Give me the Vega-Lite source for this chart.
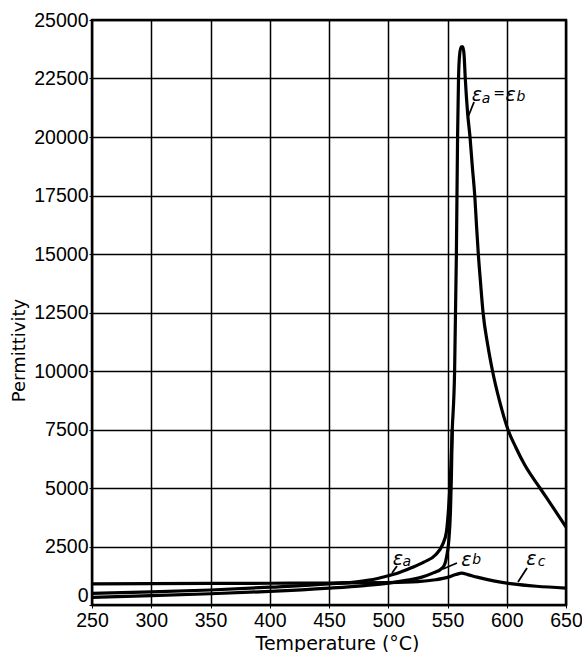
{
  "$schema": "https://vega.github.io/schema/vega-lite/v6.json",
  "width": 474,
  "height": 585,
  "autosize": "none",
  "padding": {"left": 92, "top": 20, "right": 16, "bottom": 47},
  "background": "white",
  "config": {
    "view": {"stroke": "black", "strokeWidth": 2.5},
    "axis": {"grid": true, "gridColor": "black", "gridWidth": 1.5, "gridOpacity": 1, "domain": false, "ticks": true, "tickColor": "black", "tickSize": 3, "labelColor": "black", "labelFont": "Liberation Sans", "labelFontSize": 19.5, "labelFlush": false, "labelOverlap": false, "titleColor": "black", "titleFontWeight": "normal"}
  },
  "datasets": {
    "curves": [
      {"series": "a", "T": 250, "P": 500}, {"series": "a", "T": 300, "P": 560}, {"series": "a", "T": 350, "P": 640}, {"series": "a", "T": 400, "P": 760}, {"series": "a", "T": 450, "P": 900}, {"series": "a", "T": 475, "P": 1000}, {"series": "a", "T": 490, "P": 1120}, {"series": "a", "T": 500, "P": 1250}, {"series": "a", "T": 510, "P": 1400}, {"series": "a", "T": 520, "P": 1600}, {"series": "a", "T": 530, "P": 1830}, {"series": "a", "T": 540, "P": 2150}, {"series": "a", "T": 546, "P": 2600}, {"series": "a", "T": 549, "P": 3100}, {"series": "a", "T": 551, "P": 4200}, {"series": "a", "T": 552.5, "P": 5500}, {"series": "a", "T": 554, "P": 7500}, {"series": "a", "T": 556, "P": 10000}, {"series": "a", "T": 557.5, "P": 15000}, {"series": "a", "T": 558.5, "P": 20000}, {"series": "a", "T": 559.3, "P": 22500}, {"series": "a", "T": 560.2, "P": 23500}, {"series": "a", "T": 561.5, "P": 23850}, {"series": "a", "T": 563, "P": 23850}, {"series": "a", "T": 564, "P": 23500}, {"series": "a", "T": 565, "P": 22500}, {"series": "a", "T": 567, "P": 21000}, {"series": "a", "T": 569, "P": 20000}, {"series": "a", "T": 571, "P": 18700}, {"series": "a", "T": 573, "P": 17500}, {"series": "a", "T": 574.5, "P": 16200}, {"series": "a", "T": 576, "P": 15000}, {"series": "a", "T": 578, "P": 13700}, {"series": "a", "T": 580, "P": 12500}, {"series": "a", "T": 584, "P": 11100}, {"series": "a", "T": 588, "P": 10000}, {"series": "a", "T": 594, "P": 8700}, {"series": "a", "T": 601, "P": 7500}, {"series": "a", "T": 608, "P": 6700}, {"series": "a", "T": 615, "P": 6000}, {"series": "a", "T": 628, "P": 5000}, {"series": "a", "T": 640, "P": 4100}, {"series": "a", "T": 650, "P": 3330},
      {"series": "b", "T": 250, "P": 330}, {"series": "b", "T": 300, "P": 400}, {"series": "b", "T": 350, "P": 480}, {"series": "b", "T": 400, "P": 580}, {"series": "b", "T": 450, "P": 720}, {"series": "b", "T": 480, "P": 830}, {"series": "b", "T": 500, "P": 930}, {"series": "b", "T": 515, "P": 1050}, {"series": "b", "T": 527, "P": 1170}, {"series": "b", "T": 537, "P": 1350}, {"series": "b", "T": 546, "P": 1600}, {"series": "b", "T": 549, "P": 2000}, {"series": "b", "T": 551, "P": 2700}, {"series": "b", "T": 552.5, "P": 4000}, {"series": "b", "T": 553.3, "P": 5500}, {"series": "b", "T": 554, "P": 7500},
      {"series": "c", "T": 250, "P": 900}, {"series": "c", "T": 300, "P": 910}, {"series": "c", "T": 350, "P": 920}, {"series": "c", "T": 400, "P": 930}, {"series": "c", "T": 450, "P": 940}, {"series": "c", "T": 500, "P": 960}, {"series": "c", "T": 525, "P": 1000}, {"series": "c", "T": 540, "P": 1080}, {"series": "c", "T": 550, "P": 1180}, {"series": "c", "T": 557, "P": 1300}, {"series": "c", "T": 562, "P": 1360}, {"series": "c", "T": 567, "P": 1300}, {"series": "c", "T": 575, "P": 1190}, {"series": "c", "T": 590, "P": 1020}, {"series": "c", "T": 605, "P": 900}, {"series": "c", "T": 625, "P": 800}, {"series": "c", "T": 650, "P": 725}
    ],
    "arrows": [
      {"T": 507.4, "P": 1667, "T2": 503.2, "P2": 1368},
      {"T": 558.0, "P": 1795, "T2": 546.2, "P2": 1538},
      {"T": 617.1, "P": 1581, "T2": 609.5, "P2": 983},
      {"T": 572.4, "P": 21496, "T2": 567.3, "P2": 20855}
    ],
    "labels": [
      {"kind": "main", "text": "ε", "T": 508.2, "P": 1966},
      {"kind": "sub", "text": "a", "T": 515.6, "P": 1838},
      {"kind": "main", "text": "ε", "T": 566.0, "P": 1923},
      {"kind": "sub", "text": "b", "T": 574.6, "P": 1923},
      {"kind": "main", "text": "ε", "T": 620.8, "P": 1966},
      {"kind": "sub", "text": "c", "T": 629.4, "P": 1838},
      {"kind": "main", "text": "ε", "T": 574.8, "P": 21795},
      {"kind": "sub", "text": "a", "T": 582.6, "P": 21624},
      {"kind": "sub", "text": "=", "T": 593.6, "P": 21830},
      {"kind": "main", "text": "ε", "T": 603.2, "P": 21795},
      {"kind": "sub", "text": "b", "T": 612.0, "P": 21709}
    ]
  },
  "layer": [
    {
      "data": {"name": "curves"},
      "mark": {"type": "line", "color": "black", "strokeWidth": 3.2, "interpolate": "monotone"},
      "encoding": {
        "x": {"field": "T", "type": "quantitative", "scale": {"domain": [250, 650], "nice": false, "zero": false},
          "axis": {"values": [250, 300, 350, 400, 450, 500, 550, 600, 650], "title": "Temperature  (°C)", "titleFont": "DejaVu Sans", "titleFontSize": 19, "titleX": 245, "titleY": 44, "titleBaseline": "alphabetic", "labelPadding": 3}},
        "y": {"field": "P", "type": "quantitative", "scale": {"domain": [0, 25000], "nice": false},
          "axis": {"values": [0, 2500, 5000, 7500, 10000, 12500, 15000, 17500, 20000, 22500, 25000], "format": "d", "title": "Permittivity", "titleFont": "DejaVu Sans", "titleFontSize": 18, "titleX": -64, "titleY": 330, "titleAngle": -90, "titleAlign": "center", "titleBaseline": "bottom", "labelPadding": 1,
            "labelBaseline": {"condition": {"test": "datum.value === 0", "value": "bottom"}, "value": "middle"}}},
        "detail": {"field": "series", "type": "nominal"}
      }
    },
    {
      "data": {"name": "arrows"},
      "mark": {"type": "rule", "color": "black", "strokeWidth": 1.8},
      "encoding": {
        "x": {"field": "T", "type": "quantitative"},
        "y": {"field": "P", "type": "quantitative"},
        "x2": {"field": "T2"},
        "y2": {"field": "P2"}
      }
    },
    {
      "data": {"name": "labels"},
      "transform": [{"filter": "datum.kind === 'main'"}],
      "mark": {"type": "text", "font": "DejaVu Sans", "fontSize": 19, "fontStyle": "italic", "color": "black", "align": "center", "baseline": "middle"},
      "encoding": {
        "x": {"field": "T", "type": "quantitative"},
        "y": {"field": "P", "type": "quantitative"},
        "text": {"field": "text"}
      }
    },
    {
      "data": {"name": "labels"},
      "transform": [{"filter": "datum.kind === 'sub'"}],
      "mark": {"type": "text", "font": "DejaVu Sans", "fontSize": 14, "fontStyle": "italic", "color": "black", "align": "center", "baseline": "middle"},
      "encoding": {
        "x": {"field": "T", "type": "quantitative"},
        "y": {"field": "P", "type": "quantitative"},
        "text": {"field": "text"}
      }
    }
  ]
}
